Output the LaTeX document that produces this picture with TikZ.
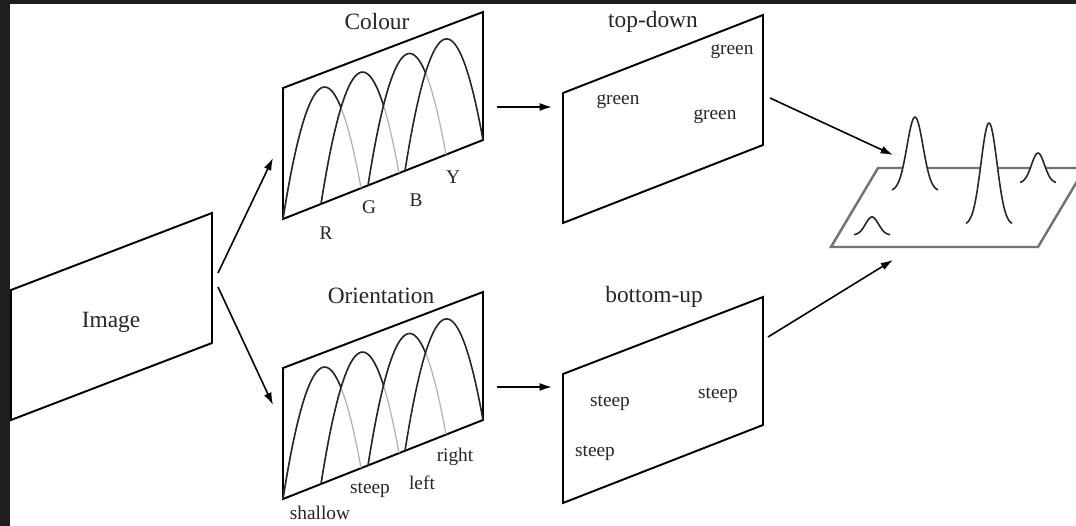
\documentclass[tikz,border=0pt]{standalone}
\usepackage{fontspec}
\setmainfont{Liberation Serif}
\usetikzlibrary{
    arrows.meta,
    calc
}
\definecolor{frameband}{HTML}{1E1E1E}
\tikzset{
    % --- Slanted panel (image or feature map) ---
    panel/.style = {
        draw=black, line width=1.1pt, line join=miter, fill=white
    },
    % --- Saliency plane at the end ---
    plane/.style = {
        draw=black!55, line width=1.4pt
    },
    % --- Tuning curve, visible part ---
    tuning/.style = {
        draw=black!85, line width=0.9pt
    },
    % --- Tuning curve, hidden part ---
    hidden line/.style = {
        draw=black!30, line width=0.7pt
    },
    % --- Bump on the saliency plane ---
    bump/.style = {
        draw=black!85, line width=0.9pt, fill=white
    },
    % --- Panel title ---
    big text/.style = {
        font=\fontsize{13.3}{16}\selectfont, text=black!85, inner sep=0pt
    },
    % --- Small label (feature value) ---
    small text/.style = {
        font=\fontsize{11}{13}\selectfont, text=black!85, inner sep=0pt
    },
    % --- Data flow arrow ---
    flow/.style = {
        -{Latex[length=7pt,width=4.5pt]}, line width=0.9pt
    }
}

\begin{document}
\begin{tikzpicture}[
    x=0.02cm, y=-0.02cm,
    declare function={hump(\t)=464*\t*(1-\t);}
]

% ---------------------------------------------------------
% 0. Frame
% ---------------------------------------------------------
\useasboundingbox (0,0) rectangle (1076,526);
\clip (0,0) rectangle (1076,526);
\fill[frameband] (0,0) rectangle (1076,526);
\fill[white] (10,4) rectangle (1080,530);

% ---------------------------------------------------------
% 1. Input image
% ---------------------------------------------------------
\draw[panel] (11,290) -- (212,213) -- (212,343) -- (11,420) -- cycle;
\node[big text] (ImageTxt) at (111,322) {Image};

% ---------------------------------------------------------
% 2. Feature channels
% ---------------------------------------------------------
\draw[panel] (283,88) -- (483,12) -- (483,140) -- (283,219) -- cycle;
\draw[panel] (283,368) -- (483,292) -- (483,420) -- (283,499) -- cycle;

\node[big text] (ColourTxt) at (377,22) {Colour};
\node[big text] (OrientTxt) at (381,296) {Orientation};

% Colour tuning curves
\draw[hidden line] plot[domain=0:1, samples=40] ({283+78*\x}, {219-0.395*(78*\x)-hump(\x)});
\draw[hidden line] plot[domain=0:1, samples=40] ({321+78*\x}, {219-0.395*(38+78*\x)-hump(\x)});
\draw[hidden line] plot[domain=0:1, samples=40] ({368+78*\x}, {219-0.395*(85+78*\x)-hump(\x)});
\draw[tuning] plot[domain=0:0.744, samples=40] ({283+78*\x}, {219-0.395*(78*\x)-hump(\x)});
\draw[tuning] plot[domain=0:0.801, samples=40] ({321+78*\x}, {219-0.395*(38+78*\x)-hump(\x)});
\draw[tuning] plot[domain=0:0.737, samples=40] ({368+78*\x}, {219-0.395*(85+78*\x)-hump(\x)});
\draw[tuning] plot[domain=0:1, samples=40] ({405+78*\x}, {219-0.395*(122+78*\x)-hump(\x)});

% Orientation tuning curves
\draw[hidden line] plot[domain=0:1, samples=40] ({283+78*\x}, {499-0.395*(78*\x)-hump(\x)});
\draw[hidden line] plot[domain=0:1, samples=40] ({321+78*\x}, {499-0.395*(38+78*\x)-hump(\x)});
\draw[hidden line] plot[domain=0:1, samples=40] ({368+78*\x}, {499-0.395*(85+78*\x)-hump(\x)});
\draw[tuning] plot[domain=0:0.744, samples=40] ({283+78*\x}, {499-0.395*(78*\x)-hump(\x)});
\draw[tuning] plot[domain=0:0.801, samples=40] ({321+78*\x}, {499-0.395*(38+78*\x)-hump(\x)});
\draw[tuning] plot[domain=0:0.737, samples=40] ({368+78*\x}, {499-0.395*(85+78*\x)-hump(\x)});
\draw[tuning] plot[domain=0:1, samples=40] ({405+78*\x}, {499-0.395*(122+78*\x)-hump(\x)});

% Labels
\node[small text] (LabR) at (326,233) {R};
\node[small text] (LabG) at (369,207) {G};
\node[small text] (LabB) at (416,200) {B};
\node[small text] (LabY) at (453,177) {Y};
\node[small text] (LabShallow) at (320,513) {shallow};
\node[small text] (LabSteep)   at (370,490) {steep};
\node[small text] (LabLeft)    at (422,483) {left};
\node[small text] (LabRight)   at (455,457) {right};

% ---------------------------------------------------------
% 3. Top-down and bottom-up maps
% ---------------------------------------------------------
\draw[panel] (563,93) -- (763,15) -- (763,145) -- (563,223) -- cycle;
\draw[panel] (563,374) -- (763,297) -- (763,425) -- (563,503) -- cycle;

\node[big text] (TopDownTxt)  at (653,22) {top-down};
\node[big text] (BottomUpTxt) at (654,297) {bottom-up};

\node[small text] (GreenA) at (732,52)  {green};
\node[small text] (GreenB) at (618,102) {green};
\node[small text] (GreenC) at (715,117) {green};
\node[small text] (SteepA) at (610,403) {steep};
\node[small text] (SteepB) at (718,395) {steep};
\node[small text] (SteepC) at (595,453) {steep};

% ---------------------------------------------------------
% 4. Saliency plane
% ---------------------------------------------------------
\draw[plane] (831,247) -- (1038,247) -- (1085,168) -- (878,168) -- cycle;

\draw[bump] plot[domain=-18:18, samples=40] ({872+\x}, {235-18*exp(-(\x)^2/84.5)});
\draw[bump] plot[domain=-23:23, samples=50] ({915+\x}, {191-74*exp(-(\x)^2/128)});
\draw[bump] plot[domain=-23:23, samples=50] ({989+\x}, {225-102*exp(-(\x)^2/128)});
\draw[bump] plot[domain=-18:18, samples=40] ({1038+\x}, {183-30*exp(-(\x)^2/84.5)});

% ---------------------------------------------------------
% 5. Arrows
% ---------------------------------------------------------
\coordinate (ImageOutA) at (218,273);
\coordinate (ImageOutB) at (218,287);
\coordinate (ColourIn)  at (273,158);
\coordinate (OrientIn)  at (273,405);
\coordinate (ColourOut) at (497,107);
\coordinate (OrientOut) at (497,387);
\coordinate (TopDownIn)  at (552,107);
\coordinate (BottomUpIn) at (552,387);
\coordinate (TopDownOut)  at (770,98);
\coordinate (BottomUpOut) at (768,337);
\coordinate (PlaneInA) at (893,155);
\coordinate (PlaneInB) at (893,260);

\draw[flow] (ImageOutA) -- (ColourIn);
\draw[flow] (ImageOutB) -- (OrientIn);
\draw[flow] (ColourOut) -- (TopDownIn);
\draw[flow] (OrientOut) -- (BottomUpIn);
\draw[flow] (TopDownOut) -- (PlaneInA);
\draw[flow] (BottomUpOut) -- (PlaneInB);

\end{tikzpicture}
\end{document}
